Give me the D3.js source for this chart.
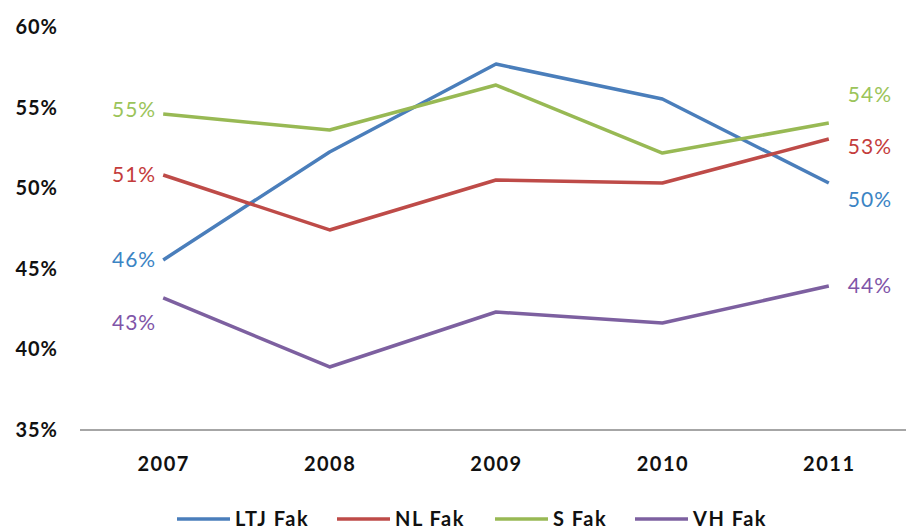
<!DOCTYPE html>
<html>
<head>
<meta charset="utf-8">
<script src="https://cdn.jsdelivr.net/npm/d3@7"></script>
<style>
  html, body { margin: 0; padding: 0; background: #fff; }
  svg { display: block; font-family: Lato, "Open Sans", sans-serif; }
</style>
</head>
<body>
<svg id="chart" width="906" height="530"></svg>
<script>
// Share per faculty, 2007–2011
const years = ["2007", "2008", "2009", "2010", "2011"];
const seriesNames = ["LTJ Fak", "NL Fak", "S Fak", "VH Fak"];
const ltj = [45.55, 52.25, 57.7, 55.53, 50.32];
const nl  = [50.82, 47.41, 50.51, 50.32, 53.05];
const sf  = [54.6, 53.61, 56.4, 52.18, 54.04];
const vh  = [43.19, 38.91, 42.32, 41.64, 43.93];
const yTicks = [35, 40, 45, 50, 55, 60];

const lineColors  = ["#4a7ebb", "#be4b48", "#98b954", "#7d60a0"];
const labelColors = ["#3b84c4", "#c43c3c", "#9bc45a", "#7f55a8"];
const values = [ltj, nl, sf, vh];

const svg = d3.select("#chart");

const x = d3.scalePoint().domain(years).range([80, 912]).padding(0.5);
const y = d3.scaleLinear().domain([35, 60]).range([430, 27]);

// y tick labels (no axis line)
const yAxis = d3.axisLeft(y).tickValues(yTicks).tickFormat(d => d + "%").tickSize(0).tickPadding(0);
const gy = svg.append("g").attr("transform", "translate(58,0)").call(yAxis);
gy.select(".domain").remove();
gy.selectAll("text")
  .attr("font-size", 20).attr("font-weight", "bold").attr("fill", "#111")
  .attr("letter-spacing", 1)
  .attr("font-family", "Lato, 'Open Sans', sans-serif");

// x axis line and year labels
const xAxis = d3.axisBottom(x).tickSize(0).tickPadding(27);
const gx = svg.append("g").attr("transform", "translate(0,430)").call(xAxis);
gx.select(".domain").attr("d", "M80,0H906").attr("stroke", "#888").attr("stroke-width", 1.3);
gx.selectAll("text")
  .attr("font-size", 20).attr("font-weight", "bold").attr("fill", "#111")
  .attr("letter-spacing", 1.5)
  .attr("font-family", "Lato, 'Open Sans', sans-serif");

// series lines
const line = d3.line().x((d, i) => x(years[i])).y(d => y(d));
values.forEach((vals, k) => {
  svg.append("path")
    .datum(vals)
    .attr("fill", "none")
    .attr("stroke", lineColors[k])
    .attr("stroke-width", 3.5)
    .attr("stroke-linejoin", "round")
    .attr("d", line);
});

// end labels: first and last year, with nudges to avoid overlaps
const firstNudge = [0, 0, -4, 25];
const lastNudge = [17, 8, -28, 0];
values.forEach((vals, k) => {
  const f = vals[0], l = vals[vals.length - 1];
  svg.append("text")
    .attr("x", x(years[0]) - 7)
    .attr("y", y(f) + firstNudge[k])
    .attr("dy", "0.35em")
    .attr("text-anchor", "end")
    .attr("font-size", 21)
    .attr("letter-spacing", 1)
    .attr("fill", labelColors[k])
    .text(Math.round(f) + "%");
  svg.append("text")
    .attr("x", x(years[years.length - 1]) + 19)
    .attr("y", y(l) + lastNudge[k])
    .attr("dy", "0.35em")
    .attr("text-anchor", "start")
    .attr("font-size", 21)
    .attr("letter-spacing", 1)
    .attr("fill", labelColors[k])
    .text(Math.round(l) + "%");
});

// legend
const legendX = [177, 337, 495, 635];
const legend = svg.append("g");
seriesNames.forEach((name, k) => {
  legend.append("line")
    .attr("x1", legendX[k]).attr("x2", legendX[k] + 53)
    .attr("y1", 519).attr("y2", 519)
    .attr("stroke", lineColors[k]).attr("stroke-width", 3.5);
  legend.append("text")
    .attr("x", legendX[k] + 58).attr("y", 519).attr("dy", "0.35em")
    .attr("font-size", 20).attr("font-weight", "bold").attr("fill", "#111")
    .attr("letter-spacing", 1.5)
    .text(name);
});
</script>
</body>
</html>
